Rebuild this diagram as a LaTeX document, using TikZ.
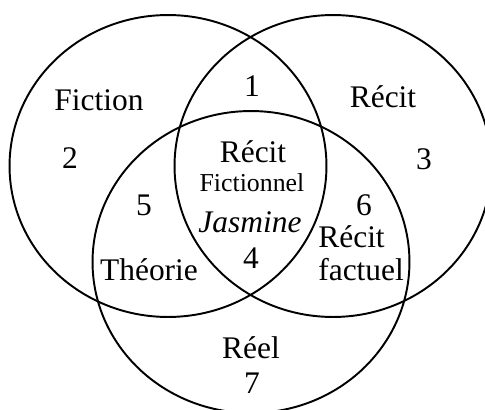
\documentclass[tikz,border=0pt]{standalone}
\usepackage{fontspec}
\setmainfont{Liberation Serif}
\usetikzlibrary{positioning}

\begin{document}
\begin{tikzpicture}[
  x=0.02cm, y=-0.02cm,
  font=\fontsize{17.9}{18.8}\selectfont,
  set/.style={line width=1.1pt, draw=black},
  lbl/.style={inner sep=0pt, align=center},
  small/.style={lbl, font=\fontsize{14.7}{16}\selectfont}
]
\clip (0,0) rectangle (485,410);
% the three sets
\draw[set] (168,166) ellipse (3.17cm and 3.02cm);
\draw[set] (333,166) ellipse (3.17cm and 3.02cm);
\draw[set] (251,262) ellipse (3.17cm and 3.02cm);
% set names
\node[lbl] (fiction) at (99,100) {Fiction};
\node[lbl] (recit) at (383,97) {Récit};
\node[lbl] (reel) at (251,348) {Réel};
% regions
\node[lbl] (one) at (252,86) {1};
\node[lbl] (two) at (70,158) {2};
\node[lbl] (three) at (424,159) {3};
\node[lbl] (five) at (144,205) {5};
\node[lbl] (six) at (364,205) {6};
\node[lbl] (seven) at (252,383) {7};
% centre
\node[lbl] (recfic) at (253,152) {Récit};
\node[small] (fictionnel) at (252,183) {Fictionnel};
\node[lbl] (jasmine) at (250,222) {\textit{Jasmine}};
\node[lbl] (four) at (251,258) {4};
% pairwise
\node[lbl] (theorie) at (149,270) {Théorie};
\node[lbl, align=left, anchor=west] (factuel) at (318,253) {Récit\\factuel};
\end{tikzpicture}
\end{document}
